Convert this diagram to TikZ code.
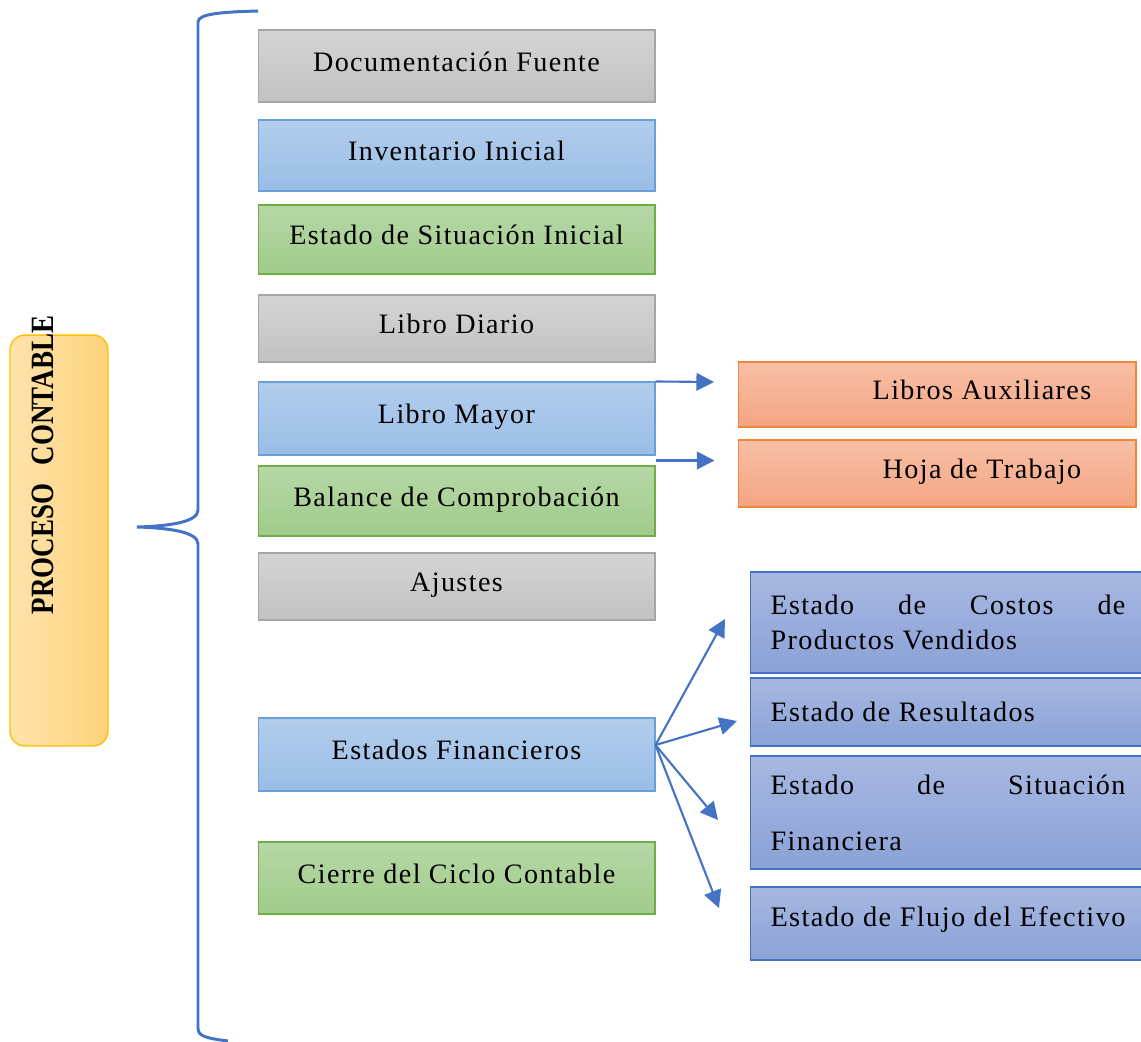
\documentclass[tikz,border=0pt]{standalone}
\usepackage{fontspec}
\usepackage{graphicx}
\setmainfont{Liberation Serif}
\newfontfamily\boxfont{Liberation Serif}[LetterSpace=5]
\usetikzlibrary{arrows.meta,calc}
\definecolor{grayT}{HTML}{D4D4D4}
\definecolor{grayBo}{HTML}{C2C2C2}
\definecolor{grayD}{HTML}{A6A6A6}
\definecolor{blueT}{HTML}{B2CDEC}
\definecolor{blueBo}{HTML}{9ABDE6}
\definecolor{blueD}{HTML}{6A9FD8}
\definecolor{greenT}{HTML}{B6D8A6}
\definecolor{greenBo}{HTML}{A0CB8B}
\definecolor{greenD}{HTML}{70AD47}
\definecolor{orangeT}{HTML}{F8BFA6}
\definecolor{orangeBo}{HTML}{F4A582}
\definecolor{orangeD}{HTML}{F08437}
\definecolor{purpT}{HTML}{A8B7E1}
\definecolor{purpBo}{HTML}{8AA2D7}
\definecolor{purpD}{HTML}{4472C4}
\definecolor{titleL}{HTML}{FFE3AC}
\definecolor{titleR}{HTML}{FDD37B}
\definecolor{titleD}{HTML}{FFC000}
\definecolor{linec}{HTML}{4472C4}
\begin{document}
\begin{tikzpicture}[x=0.02cm,y=-0.02cm,
  lbox/.style={draw, line width=0.6pt, inner sep=0pt, minimum width=7.94cm,
    font=\boxfont\fontsize{16}{19}\selectfont, text height=12pt, text depth=6pt},
  graybox/.style={lbox, draw=grayD, top color=grayT, bottom color=grayBo},
  bluebox/.style={lbox, draw=blueD, top color=blueT, bottom color=blueBo},
  greenbox/.style={lbox, draw=greenD, top color=greenT, bottom color=greenBo},
  orangebox/.style={lbox, minimum width=7.96cm, draw=orangeD, top color=orangeT, bottom color=orangeBo},
  pbox/.style={draw=purpD, line width=0.6pt, top color=purpT, bottom color=purpBo,
    anchor=west, inner xsep=0.4cm, inner ysep=0pt, text width=7.1cm, align=justify,
    font=\boxfont\fontsize{16}{20.4}\selectfont},
  titlebox/.style={draw=titleD, line width=0.8pt, rounded corners=0.3cm, left color=titleL, right color=titleR, inner sep=0pt},
  conn/.style={draw=linec, line width=1.2pt, -{Triangle[length=10pt,width=10pt]}},
  brace/.style={draw=linec, line width=1.7pt}
]
\useasboundingbox (0,0) rectangle (1141,1041);

% brace
\draw[brace] (258,11) .. controls (220,12) and (198,14) .. (198,22) -- (198,510)
  .. controls (198,522) and (170,526) .. (137,527)
  .. controls (170,528) and (198,532) .. (198,544) -- (198,1028)
  .. controls (198,1036) and (205,1038) .. (228,1041);

% title
\node[titlebox, minimum width=1.96cm, minimum height=8.22cm] (tbox) at (59,540.5) {};
\node[rotate=90, anchor=base, inner sep=0pt, font=\bfseries\fontsize{18.5}{18.5}\selectfont] (ttext) at (53,465) {\scalebox{0.83}[1]{PROCESO\hspace{0.7em}CONTABLE}};

% left column
\node[graybox, minimum height=1.44cm] (df) at (456.5,66) {Documentación Fuente};
\node[bluebox, minimum height=1.42cm] (ii) at (456.5,155.5) {Inventario Inicial};
\node[greenbox, minimum height=1.38cm] (esi) at (456.5,239.5) {Estado de Situación Inicial};
\node[graybox, minimum height=1.34cm] (ld) at (456.5,328.5) {Libro Diario};
\node[bluebox, minimum height=1.46cm] (lm) at (456.5,418.5) {Libro Mayor};
\node[greenbox, minimum height=1.40cm] (bc) at (456.5,501) {Balance de Comprobación};
\node[graybox, minimum height=1.34cm] (aj) at (456.5,586.5) {Ajustes};
\node[bluebox, minimum height=1.46cm] (ef) at (456.5,754.5) {Estados Financieros};
\node[greenbox, minimum height=1.44cm] (cc) at (456.5,878) {Cierre del Ciclo Contable};

% orange column
\node[orangebox, minimum height=1.3cm] (la) at (937,394.5) {\hspace*{1.8cm}Libros Auxiliares};
\node[orangebox, minimum height=1.34cm] (ht) at (937,473.5) {\hspace*{1.8cm}Hoja de Trabajo};

% purple column
\node[pbox, minimum height=2.02cm] (cpv) at (750,622.5) {Estado de Costos de\linebreak Productos Vendidos};
\node[pbox, minimum height=1.36cm] (er) at (750,712) {Estado de Resultados};
\node[pbox, minimum height=2.26cm, font=\boxfont\fontsize{16}{32}\selectfont] (esf) at (750,812.5) {Estado de Situación\linebreak Financiera};
\node[pbox, minimum height=1.46cm, text depth=8pt] (efe) at (750,923.5) {\resizebox{7.1cm}{!}{Estado de Flujo del Efectivo}};

% arrows from Libro Mayor
\coordinate (a1e) at (714,382);
\draw[conn] (lm.north east) -- (a1e);
\coordinate (a2s) at ($(lm.south east)!0.5!(bc.north east)$);
\coordinate (a2e) at ($(a2s)+(59,0)$);
\draw[conn] (a2s) -- (a2e);

% arrows from Estados Financieros
\coordinate (efo) at ($(ef.east)+(0,-9.5)$);
\coordinate (t1) at (725,619);
\coordinate (t2) at (737,721);
\coordinate (t3) at (718,820);
\coordinate (t4) at (719,908);
\draw[conn] (efo) -- (t1);
\draw[conn] (efo) -- (t2);
\draw[conn] (efo) -- (t3);
\draw[conn] (efo) -- (t4);
\end{tikzpicture}
\end{document}
